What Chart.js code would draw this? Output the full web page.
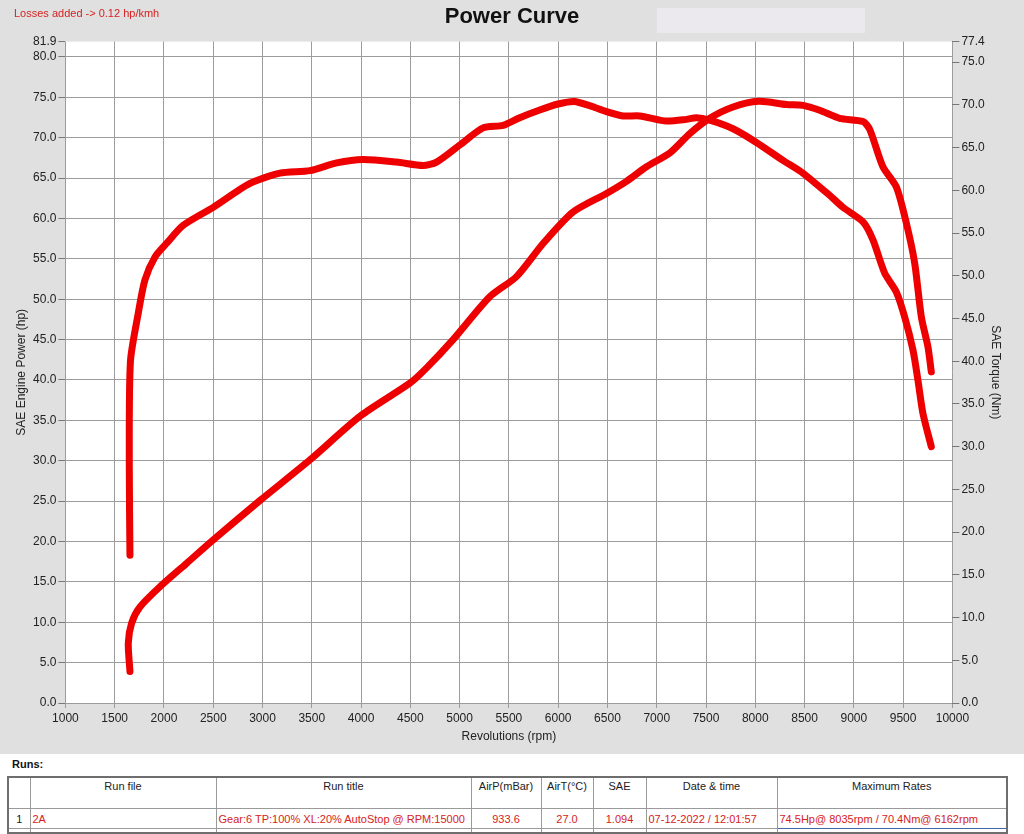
<!DOCTYPE html>
<html>
<head>
<meta charset="utf-8">
<script src="https://cdn.jsdelivr.net/npm/chart.js@4.4.1/dist/chart.umd.min.js"></script>
<style>
  html, body { margin: 0; padding: 0; background: #ffffff; }
  body { width: 1024px; height: 834px; position: relative; overflow: hidden; font-family: 'Liberation Sans', Arial, sans-serif; }
  #wrap { position: absolute; left: 0; top: 0; width: 1024px; height: 754px; }
  #losses { position: absolute; left: 14px; top: 7px; font-size: 11px; color: #d62222; }
  #ghost { position: absolute; left: 657px; top: 8px; width: 208px; height: 25px; background: #ece9ee; }
  #runs { position: absolute; left: 12px; top: 758px; font-size: 11px; font-weight: bold; color: #111; }
  table { position: absolute; left: 7px; top: 776px; border-collapse: collapse; font-size: 11px; table-layout: fixed; width: 999px; border: 2px solid #6e6e6e; }
  td, th { border: 1px solid #9a9a9a; padding: 0 2px; font-weight: normal; color: #222; white-space: nowrap; overflow: hidden; }
  th { height: 28px; vertical-align: top; padding-top: 2px; text-align: center; }
  td { height: 19px; color: #d62222; }
  td.c { text-align: center; }
  td.n { color: #222; text-align: center; }
  td.blue { border: 1px solid #3f68a8; }
  tr.pad td { height: 3px; padding: 0; }
</style>
</head>
<body>
<div id="wrap"><canvas id="c" width="1024" height="754"></canvas></div>
<div id="ghost"></div>
<div id="losses">Losses added -&gt; 0.12 hp/kmh</div>
<div id="runs">Runs:</div>
<table>
  <colgroup>
    <col style="width:22px"><col style="width:186px"><col style="width:255px"><col style="width:70px">
    <col style="width:52px"><col style="width:53px"><col style="width:131px"><col style="width:230px">
  </colgroup>
  <tr><th></th><th>Run file</th><th>Run title</th><th>AirP(mBar)</th><th>AirT(°C)</th><th>SAE</th><th>Date &amp; time</th><th>Maximum Rates</th></tr>
  <tr><td class="n">1</td><td>2A</td><td>Gear:6 TP:100% XL:20% AutoStop @ RPM:15000</td><td class="c">933.6</td><td class="c">27.0</td><td class="c">1.094</td><td>07-12-2022 / 12:01:57</td><td class="blue">74.5Hp@ 8035rpm / 70.4Nm@ 6162rpm</td></tr>
  <tr class="pad"><td></td><td></td><td></td><td></td><td></td><td></td><td></td><td></td></tr>
</table>
<script>
// ---- data ----
const torqueRpm = [1655,1648,1660,1739,1807,1909,2027,2196,2500,2873,3177,3481,3752,4021,4360,4630,4766,5002,5238,5441,5610,5813,5999,6162,6320,6490,6658,6828,7098,7301,7403,7538,7774,8011,8281,8484,8755,8890,9093,9194,9313,9431,9515,9600,9650,9701,9786];
const torqueNm  = [17.3,28.4,40.0,45.6,49.5,52.2,53.8,55.9,58.0,60.8,62.0,62.3,63.2,63.6,63.3,62.9,63.3,65.3,67.3,67.6,68.5,69.4,70.1,70.4,69.9,69.2,68.7,68.7,68.1,68.3,68.5,68.2,67.2,65.6,63.5,62.0,59.4,58.0,56.3,54.2,50.3,48.1,45.2,41.3,37.8,33.9,30.0];
const powerRpm  = [1655,1638,1672,1757,1959,2230,2500,2977,3481,3989,4495,4665,4934,5306,5577,5847,6151,6490,6693,6896,7132,7335,7538,7774,8035,8316,8484,8653,8856,9093,9162,9295,9431,9533,9617,9685,9752,9786];
const powerHp   = [3.9,7.4,9.9,11.9,14.4,17.3,20.2,25.1,30.1,35.5,39.6,41.5,45.0,50.3,52.8,56.9,60.8,63.1,64.6,66.4,68.1,70.5,72.4,73.8,74.5,74.1,74.0,73.4,72.4,72.0,71.0,66.4,63.9,59.4,54.5,47.8,44.1,41.0];
const xTicks     = [1000,1500,2000,2500,3000,3500,4000,4500,5000,5500,6000,6500,7000,7500,8000,8500,9000,9500,10000];
const powerTicks = [0,5,10,15,20,25,30,35,40,45,50,55,60,65,70,75,80,81.9];
const torqueTicks= [0,5,10,15,20,25,30,35,40,45,50,55,60,65,70,75,77.4];

Chart.defaults.font.family = "'Liberation Sans', Arial, sans-serif";
Chart.defaults.color = '#222';

const toPts = (xs, ys) => xs.map((x, i) => ({x: x, y: ys[i]}));

const bgPlugin = {
  id: 'bg',
  beforeDraw(chart) {
    const {ctx, chartArea: a} = chart;
    ctx.save();
    ctx.fillStyle = '#e0e0e0';
    ctx.fillRect(0, 0, chart.width, chart.height);
    ctx.fillStyle = '#ffffff';
    ctx.fillRect(a.left, a.top, a.right - a.left, a.bottom - a.top);
    ctx.restore();
  }
};

const lineStyle = {
  borderColor: '#ee0000',
  borderWidth: 7,
  pointRadius: 0,
  borderCapStyle: 'round',
  borderJoinStyle: 'round',
  tension: 0.25,
  fill: false
};

new Chart(document.getElementById('c'), {
  type: 'line',
  data: {
    datasets: [
      Object.assign({label: 'SAE Torque (Nm)', data: toPts(torqueRpm, torqueNm), yAxisID: 'yT'}, lineStyle),
      Object.assign({label: 'SAE Engine Power (hp)', data: toPts(powerRpm, powerHp), yAxisID: 'yP'}, lineStyle)
    ]
  },
  options: {
    responsive: false,
    animation: false,
    layout: { padding: 0 },
    plugins: {
      legend: { display: false },
      tooltip: { enabled: false },
      title: {
        display: true,
        text: 'Power Curve',
        color: '#111',
        font: { size: 22, weight: 'bold' },
        padding: { top: 4, bottom: 11.2 }
      }
    },
    scales: {
      x: {
        type: 'linear',
        min: 1000, max: 10000,
        afterBuildTicks: s => { s.ticks = xTicks.map(v => ({value: v})); },
        afterFit: s => { s.height = 51; },
        ticks: { font: { size: 12 }, color: '#222', padding: 3, maxRotation: 0, autoSkip: false,
                 callback: v => String(v) },
        grid: { color: '#9c9c9c', lineWidth: 1, tickLength: 5, tickColor: '#9c9c9c' },
        border: { display: false },
        title: { display: true, text: 'Revolutions (rpm)', font: { size: 12 }, color: '#222', padding: { top: 0, bottom: 9.8 } }
      },
      yP: {
        type: 'linear',
        position: 'left',
        min: 0, max: 81.9,
        afterBuildTicks: s => { s.ticks = powerTicks.map(v => ({value: v})); },
        afterFit: s => { s.width = 65.4; },
        ticks: { font: { size: 12 }, color: '#222', padding: 2, autoSkip: false, callback: v => Number(v).toFixed(1) },
        grid: { color: ctx => (ctx.tick && ctx.tick.value === 81.9) ? 'rgba(0,0,0,0)' : '#9c9c9c',
                lineWidth: 1, tickLength: 7, tickColor: '#777' },
        border: { display: false },
        title: { display: true, text: 'SAE Engine Power (hp)', font: { size: 12 }, color: '#222', padding: { top: 14.8, bottom: 0 } }
      },
      yT: {
        type: 'linear',
        position: 'right',
        min: 0, max: 77.4,
        afterBuildTicks: s => { s.ticks = torqueTicks.map(v => ({value: v})); },
        afterFit: s => { s.width = 71.6; },
        ticks: { font: { size: 12 }, color: '#222', padding: 2, autoSkip: false, callback: v => Number(v).toFixed(1) },
        grid: { drawOnChartArea: false, tickLength: 7, tickColor: '#777' },
        border: { display: false },
        title: { display: true, text: 'SAE Torque (Nm)', font: { size: 12 }, color: '#222', padding: { top: 21.8, bottom: 0 } }
      }
    }
  },
  plugins: [bgPlugin]
});
</script>
</body>
</html>
